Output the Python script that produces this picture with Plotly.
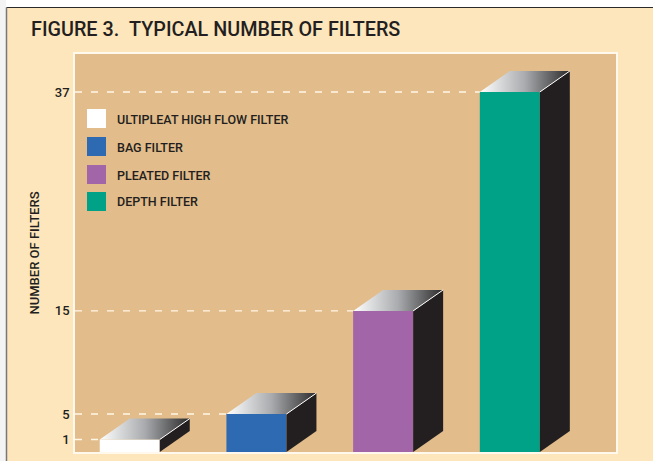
import plotly.graph_objects as go

W, H = 653, 461
ML, MR, MT, MB = 75, 37, 54, 9
PW, PH = W - ML - MR, H - MT - MB

# Data. The reference's axis is not to scale, so bars are drawn at the heights
# read off the picture, and tick labels carry the printed values.
categories = ["ULTIPLEAT HIGH FLOW FILTER", "BAG FILTER", "PLEATED FILTER", "DEPTH FILTER"]
labelled_values = [1, 5, 15, 37]
drawn_heights = [1.28, 3.9, 14.5, 37.0]
tick_labels = ["1", "5", "15", "37"]
bar_colors = ["#FFFFFF", "#2E6AB1", "#A265A8", "#00A287"]
positions = [0, 1, 2, 3]

INK = "#231F20"
FONT = "Roboto"
X_RANGE = [-0.432, 3.838]
Y_RANGE = [0, PH / 9.73]
BAR_W = 60 / 126.67
DX = 30 * (X_RANGE[1] - X_RANGE[0]) / PW
DY = 21 * (Y_RANGE[1] - Y_RANGE[0]) / PH


def paper_x(px):
    return (px - ML) / PW


def paper_y(py):
    return (H - MB - py) / PH


fig = go.Figure()

# dashed guides, from the frame to each bar's left edge
for pos, h in zip(positions, drawn_heights):
    fig.add_trace(go.Scatter(
        x=[X_RANGE[0], pos - BAR_W / 2], y=[h, h], mode="lines",
        line=dict(color="#FFF6E6", width=1.4, dash="7px,9px"),
        hoverinfo="skip", showlegend=False))

# front faces
fig.add_trace(go.Bar(
    x=positions, y=drawn_heights, width=BAR_W, marker=dict(color=bar_colors, line_width=0),
    customdata=labelled_values, hovertemplate="%{customdata}<extra></extra>", showlegend=False))

# side and top faces, derived from the bars
for pos, h in zip(positions, drawn_heights):
    xl, xr = pos - BAR_W / 2, pos + BAR_W / 2
    fig.add_trace(go.Scatter(
        x=[xr, xr + DX, xr + DX, xr, xr], y=[0, DY, h + DY, h, 0],
        mode="lines", line=dict(width=0), fill="toself", fillcolor=INK,
        hoverinfo="skip", showlegend=False))
    fig.add_trace(go.Scatter(
        x=[xl, xl + DX, xr + DX, xr, xl], y=[h, h + DY, h + DY, h, h],
        mode="lines", line=dict(width=0), fill="toself",
        fillgradient=dict(type="horizontal",
                          colorscale=[[0, "#FFFFFF"], [0.5, "#A9ABAE"], [1, "#2B2A2B"]]),
        hoverinfo="skip", showlegend=False))
    fig.add_trace(go.Scatter(
        x=[xr, xr + DX], y=[h, h + DY], mode="lines",
        line=dict(color="#FFFFFF", width=1), hoverinfo="skip", showlegend=False))

shapes = [
    # page edge outside the cream panel
    dict(type="rect", xref="paper", yref="paper", x0=paper_x(0), x1=paper_x(W),
         y0=paper_y(0), y1=paper_y(7), fillcolor="#FFFFFF", line_width=0),
    dict(type="rect", xref="paper", yref="paper", x0=paper_x(0), x1=paper_x(6),
         y0=paper_y(0), y1=paper_y(H), fillcolor="#F4F4F4", line_width=0),
    dict(type="line", xref="paper", yref="paper", x0=paper_x(6.5), x1=paper_x(W),
         y0=paper_y(7.5), y1=paper_y(7.5), line=dict(color="#2A2A2A", width=1)),
    dict(type="line", xref="paper", yref="paper", x0=paper_x(6.5), x1=paper_x(6.5),
         y0=paper_y(7.5), y1=paper_y(H), line=dict(color="#777777", width=1.5)),
]

annotations = []
legend_centres = [118.5, 146.5, 174.5, 201.5]
for name, color, cy in zip(categories, bar_colors, legend_centres):
    shapes.append(dict(type="rect", xref="paper", yref="paper",
                       x0=paper_x(87), x1=paper_x(106),
                       y0=paper_y(cy + 9.5), y1=paper_y(cy - 9.5),
                       fillcolor=color, line_width=0))
    annotations.append(dict(xref="paper", yref="paper", x=paper_x(115), y=paper_y(cy + 0.5),
                            text=name, showarrow=False, xanchor="left", yanchor="middle",
                            font=dict(family=FONT, size=12.5, weight=500, color=INK)))

fig.update_layout(
    width=W, height=H,
    margin=dict(l=ML, r=MR, t=MT, b=MB, pad=0),
    paper_bgcolor="#FEE6BC", plot_bgcolor="#E2BC8A",
    title=dict(text="FIGURE 3.\u00a0\u00a0TYPICAL NUMBER OF FILTERS",
               x=31 / W, xref="container", xanchor="left",
               y=1 - 29 / H, yref="container", yanchor="middle",
               font=dict(family=FONT, size=19.8, weight=500, color=INK)),
    xaxis=dict(range=X_RANGE, showgrid=False, zeroline=False, showticklabels=False,
               ticks="", showline=True, mirror=True, linecolor="#FFF8EC", linewidth=1.5),
    yaxis=dict(range=Y_RANGE, showgrid=False, zeroline=False,
               tickmode="array", tickvals=drawn_heights, ticktext=tick_labels,
               ticks="outside", ticklen=1, tickcolor="rgba(0,0,0,0)",
               tickfont=dict(family=FONT, size=13, weight=500, color=INK),
               showline=True, mirror=True, linecolor="#FFF8EC", linewidth=1.5,
               title=dict(text="NUMBER OF FILTERS", standoff=12,
                          font=dict(family=FONT, size=13, weight=500, color=INK))),
    shapes=shapes, annotations=annotations, showlegend=False,
)

fig.write_html("out.html", config=dict(displayModeBar=False),
               post_script="document.body.style.margin='0';")
